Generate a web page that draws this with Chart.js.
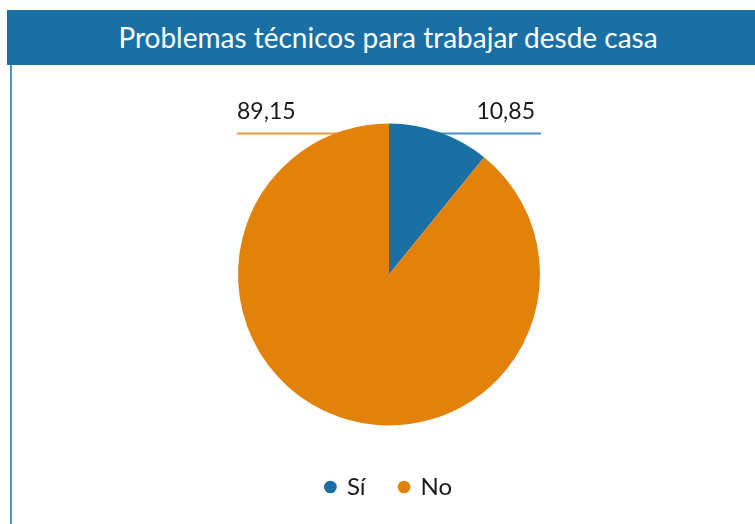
<!DOCTYPE html>
<html>
<head>
<meta charset="utf-8">
<script src="https://cdn.jsdelivr.net/npm/chart.js@4"></script>
<style>
  body { margin: 0; background: #fff; font-family: Lato, "Open Sans", sans-serif; }
  #header {
    position: absolute; left: 7px; top: 10px; width: 748px; height: 55px;
    background: #1a6fa5; color: #fff; font-size: 28px; font-weight: 400; line-height: 55px;
    text-align: center; padding-left: 14px; box-sizing: border-box;
  }
  #side { position: absolute; left: 10px; top: 65px; width: 2px; height: 459px; background: #4f94c9; }
  #wrap { position: absolute; left: 0; top: 0; width: 755px; height: 524px; }
</style>
</head>
<body>
<div id="header">Problemas técnicos para trabajar desde casa</div>
<div id="side"></div>
<div id="wrap"><canvas id="pie"></canvas></div>
<script>
const categories = ['Sí', 'No'];
const values = [10.85, 89.15];
const valueLabels = ['10,85', '89,15'];
const colors = ['#1a6fa5', '#e3820a'];
const lineColors = ['#4a8fc0', '#e99a3a'];

// leader lines (under the pie) and value labels above them
const leaderPlugin = {
  id: 'leaders',
  beforeDatasetsDraw(chart) {
    const arc = chart.getDatasetMeta(0).data[0];
    const cx = arc.x, cy = arc.y, r = arc.outerRadius;
    const ctx = chart.ctx;
    ctx.save();
    ctx.lineWidth = 2;
    ctx.strokeStyle = lineColors[1];
    ctx.beginPath(); ctx.moveTo(cx - r - 1, cy - r + 10); ctx.lineTo(cx, cy - r + 10); ctx.stroke();
    ctx.strokeStyle = lineColors[0];
    ctx.beginPath(); ctx.moveTo(cx, cy - r + 10); ctx.lineTo(cx + r + 1, cy - r + 10); ctx.stroke();
    ctx.restore();
  },
  afterDatasetsDraw(chart) {
    const arc = chart.getDatasetMeta(0).data[0];
    const cx = arc.x, cy = arc.y, r = arc.outerRadius;
    const ctx = chart.ctx;
    ctx.save();
    ctx.font = '23px Lato, "Open Sans", sans-serif';
    ctx.fillStyle = '#1a1a1a';
    ctx.textBaseline = 'alphabetic';
    ctx.textAlign = 'left';
    ctx.fillText(valueLabels[1], cx - r - 1, cy - r - 5);
    ctx.textAlign = 'right';
    ctx.fillText(valueLabels[0], cx + r - 5, cy - r - 5);
    ctx.restore();
  }
};

new Chart(document.getElementById('pie'), {
  type: 'pie',
  data: {
    labels: categories,
    datasets: [{
      data: values,
      backgroundColor: colors,
      borderWidth: 0
    }]
  },
  options: {
    responsive: true,
    maintainAspectRatio: false,
    animation: false,
    layout: { padding: { top: 108, left: 238, right: 215, bottom: 15 } },
    plugins: {
      tooltip: { enabled: false },
      legend: {
        position: 'bottom',
        labels: {
          usePointStyle: true,
          pointStyle: 'circle',
          boxWidth: 9,
          boxHeight: 9,
          padding: 34,
          color: '#1a1a1a',
          font: { family: 'Lato, "Open Sans", sans-serif', size: 24 }
        }
      }
    }
  },
  plugins: [leaderPlugin]
});
</script>
</body>
</html>
